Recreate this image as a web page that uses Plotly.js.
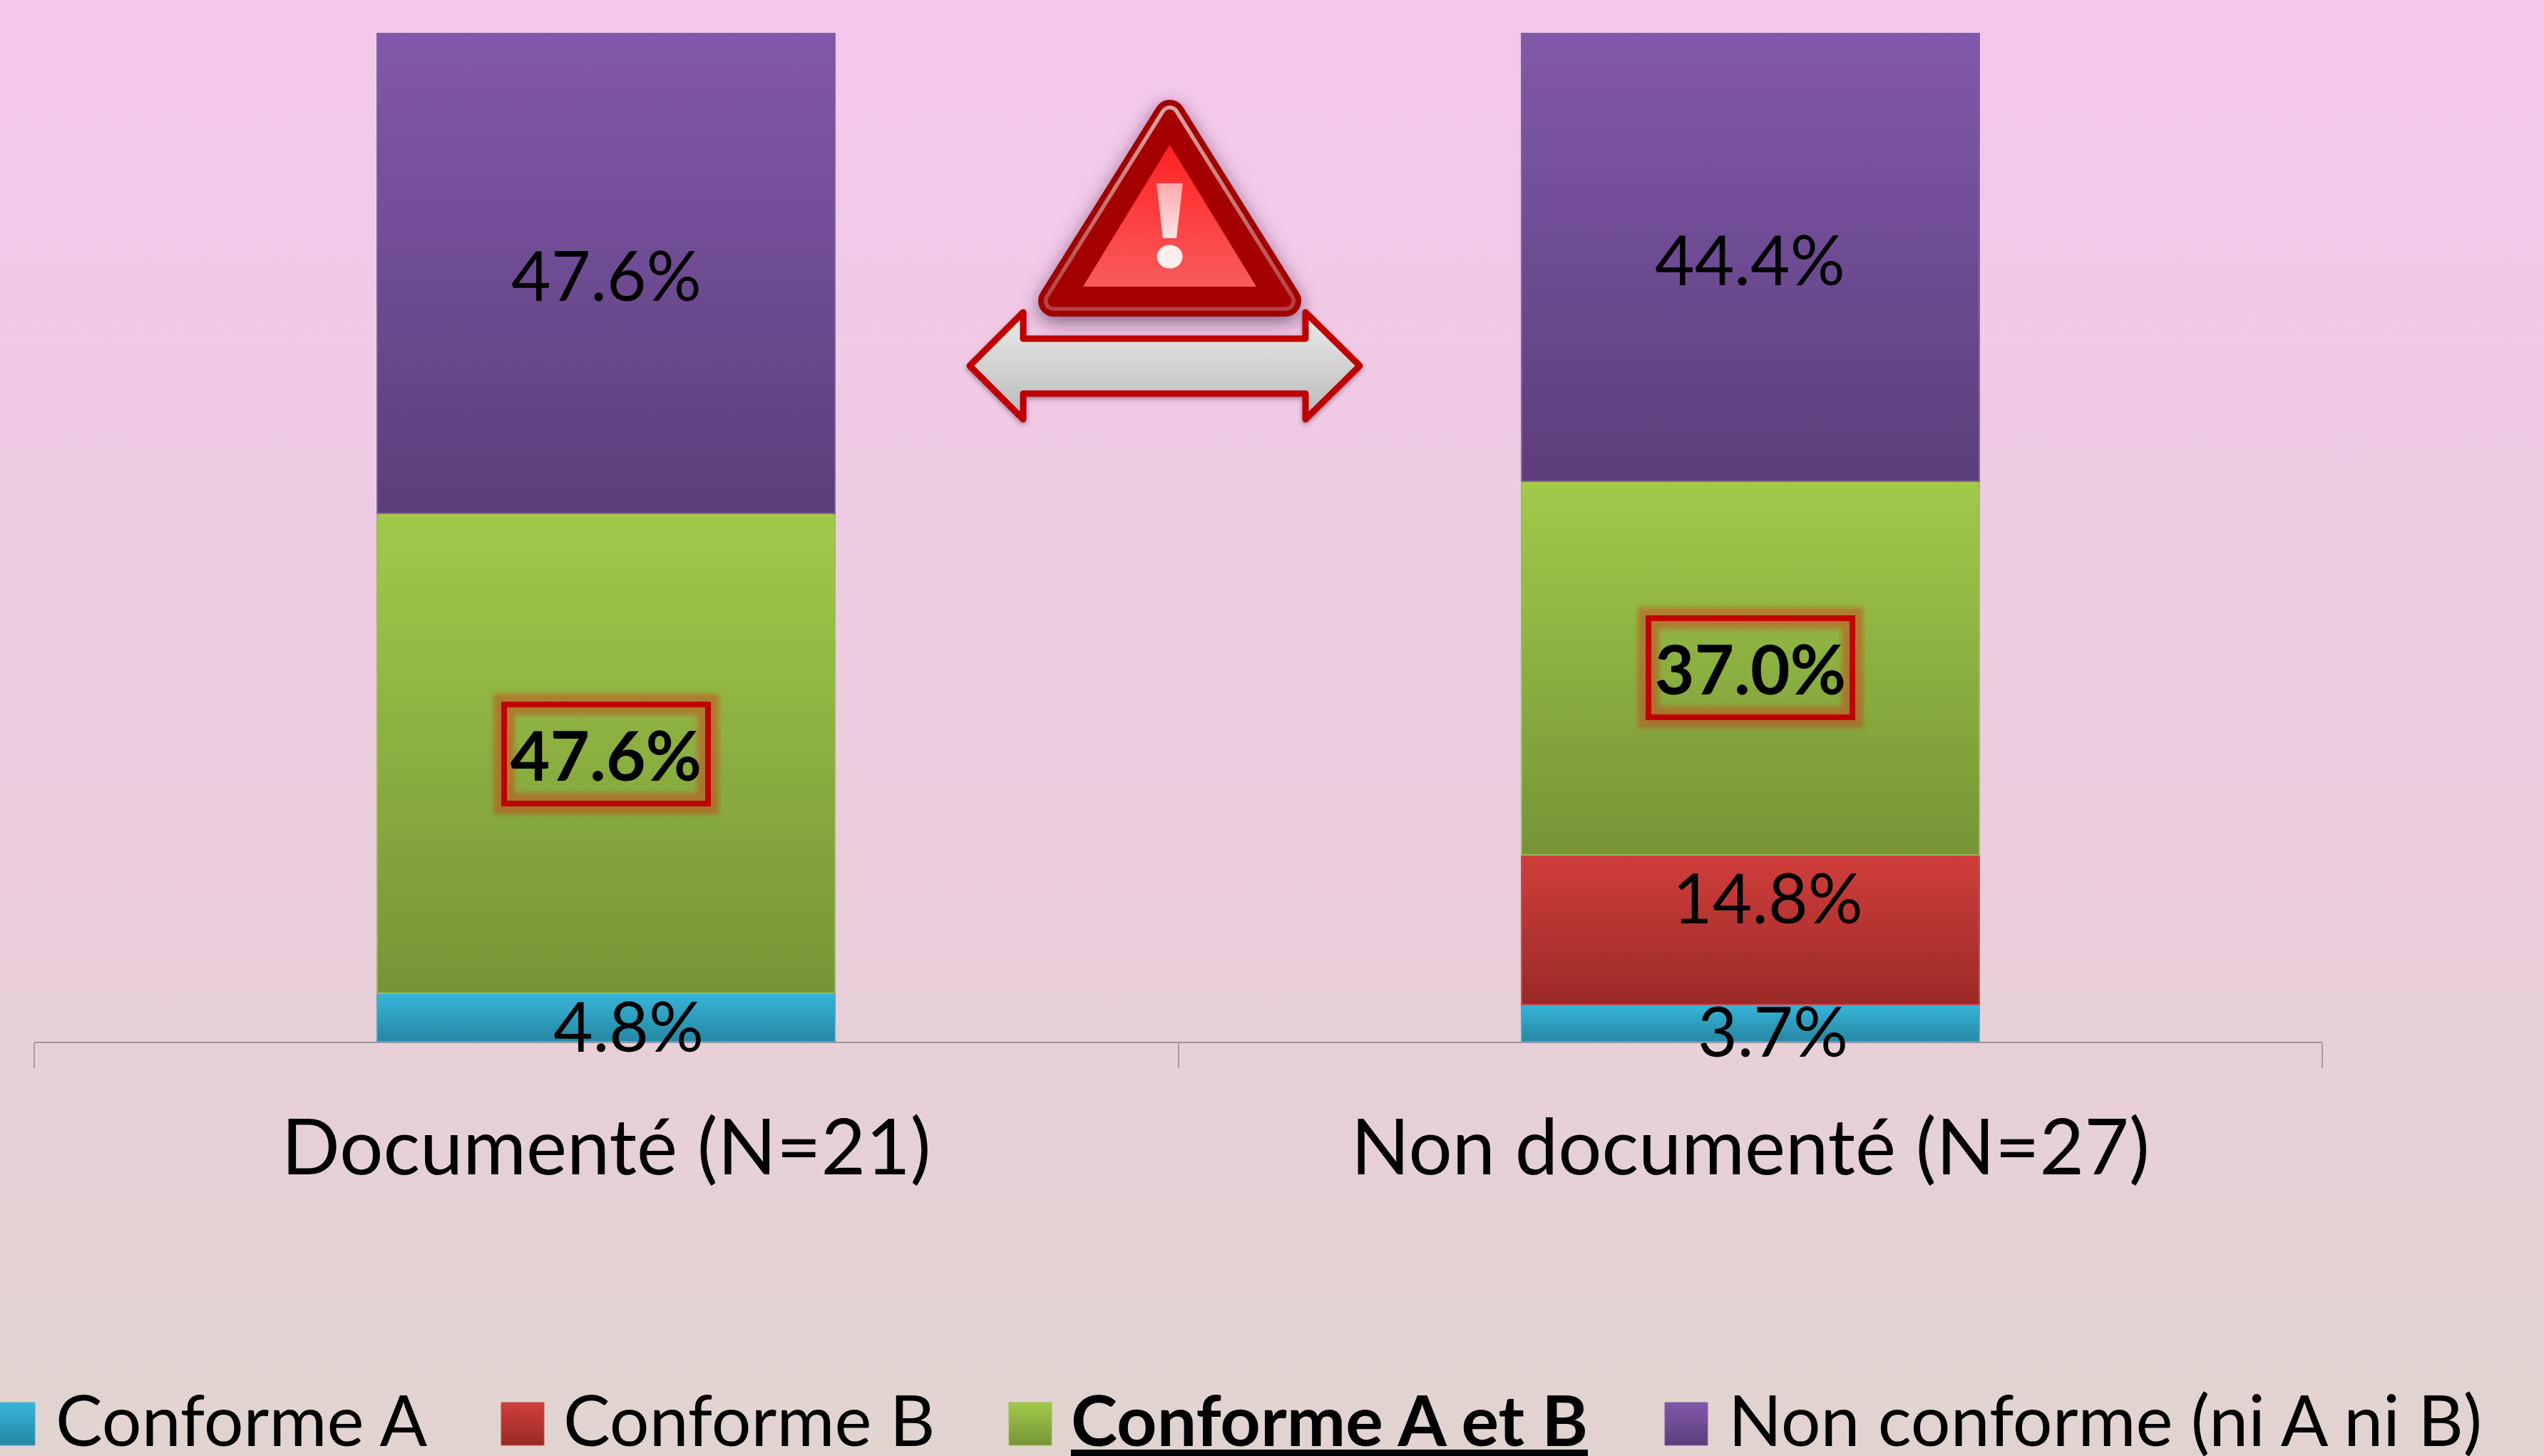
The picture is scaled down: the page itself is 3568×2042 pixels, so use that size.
<!DOCTYPE html>
<html lang="fr">
<head>
<meta charset="utf-8">
<script src="https://cdn.plot.ly/plotly-3.0.1.min.js"></script>
<style>
html,body{margin:0;padding:0;width:3568px;height:2042px;overflow:hidden;
background:linear-gradient(180deg,#f5c8ec 0%,#ecccdf 50%,#e1d4cf 100%);}
#chart{width:3568px;height:2042px;}
</style>
</head>
<body>
<div id="chart"></div>
<script>
const categories = ['Documenté (N=21)', 'Non documenté (N=27)'];
const seriesNames = ['Conforme A', 'Conforme B', 'Conforme A et B', 'Non conforme (ni A ni B)'];
const conformeA = [4.8, 3.7];
const conformeB = [0, 14.8];
const conformeAB = [47.6, 37.0];
const nonConforme = [47.6, 44.4];
const seriesValues = [conformeA, conformeB, conformeAB, nonConforme];

const gradients = [['#38b5d9', '#2587a3'], ['#d03e3b', '#9a2a27'], ['#a1ca4a', '#769436'], ['#8059aa', '#5c3e7b']];
const edgeColors = ['#46aac8', '#c0504d', '#9bbb59', '#8064a2'];

// label nudges in pixels, per series then per category
const labelDx = [[31, 32], [0, 25], [0, 0], [0, 0]];
const labelDy = [[-10, -10], [0, 46], [-1, 0], [-2, -2]];

const W = 3568, H = 2042;
const plot = {l: 48, r: 311, t: 46, b: 581};
const pw = W - plot.l - plot.r, ph = H - plot.t - plot.b;
const px = v => (v - plot.l) / pw;
const py = v => (H - plot.b - v) / ph;
const FONT = 'Lato, Carlito, sans-serif';
const LABEL_SIZE = 96;
const LEGEND_SIZE = 98.5;

const traces = seriesValues.map((vals, i) => ({
  type: 'bar', x: categories, y: vals, name: seriesNames[i], showlegend: false,
  marker: {color: gradients[i][0], line: {color: edgeColors[i], width: 2}},
  hoverinfo: 'skip'
}));

const annotations = [];
categories.forEach((c, k) => {
  const total = seriesValues.reduce((s, v) => s + v[k], 0);
  let base = 0;
  seriesValues.forEach((vals, i) => {
    const v = vals[k];
    if (v > 0) {
      const boxed = i === 2;
      const a = {
        x: c, y: (base + v / 2) / total * 100, xref: 'x', yref: 'y',
        text: (boxed ? '<b>' : '') + v.toFixed(1) + '%' + (boxed ? '</b>' : ''),
        showarrow: false, xshift: labelDx[i][k], yshift: labelDy[i][k],
        font: {family: FONT, size: LABEL_SIZE, color: '#000'}, xanchor: 'center', yanchor: 'middle'
      };
      if (boxed) { Object.assign(a, {bordercolor: '#c00000', borderwidth: 8, borderpad: 0, width: 278, height: 131}); }
      annotations.push(a);
    }
    base += v;
  });
});

// legend, drawn from the series names
const swatchX = [-11, 703, 1415, 2335];
const legendTextX = [76, 788, 1500, 2422];
const shapes = [];
seriesNames.forEach((n, i) => {
  shapes.push({type: 'rect', xref: 'paper', yref: 'paper', x0: px(swatchX[i]), x1: px(swatchX[i] + 60),
    y0: py(2027), y1: py(1967), fillcolor: gradients[i][0], line: {color: edgeColors[i], width: 1}});
  annotations.push({xref: 'paper', yref: 'paper', x: px(legendTextX[i]), y: py(1990), xanchor: 'left', yanchor: 'middle',
    showarrow: false, align: 'left', height: 104, text: i === 2 ? '<b><u>' + n + '</u></b>' : n,
    font: {family: FONT, size: LEGEND_SIZE, color: '#000'}});
});

// warning sign and double arrow
const decor = `<svg xmlns="http://www.w3.org/2000/svg" width="700" height="700" viewBox="0 0 700 700">
<defs>
<linearGradient id="r" x1="0" y1="0" x2="0" y2="1"><stop offset="0" stop-color="#ff2020"/><stop offset=".25" stop-color="#ff3030"/><stop offset="1" stop-color="#f85c5c"/></linearGradient>
<linearGradient id="h" x1="0" y1="0" x2="0" y2="1"><stop offset="0" stop-color="#dca0a0"/><stop offset="1" stop-color="#b84040"/></linearGradient>
<linearGradient id="e" x1="0" y1="0" x2="0" y2="1"><stop offset="0" stop-color="#ffa8a8"/><stop offset="1" stop-color="#ffe4e4"/></linearGradient>
<linearGradient id="a" x1="0" y1="0" x2="0" y2="1"><stop offset="0" stop-color="#ececec"/><stop offset="1" stop-color="#b9b9b9"/></linearGradient>
<filter id="s1" x="-30%" y="-30%" width="160%" height="160%"><feDropShadow dx="0" dy="8" stdDeviation="13" flood-color="#3a1a3a" flood-opacity=".6"/></filter>
<filter id="s2" x="-10%" y="-10%" width="120%" height="120%"><feDropShadow dx="0" dy="3" stdDeviation="3" flood-color="#402040" flood-opacity=".45"/></filter>
</defs>
<g filter="url(#s1)"><polygon points="340.6,62 178,322 503,322" fill="#a00000" stroke="#a00000" stroke-width="44" stroke-linejoin="round"/></g>
<polygon points="340.6,62 178,322 503,322" fill="none" stroke="url(#h)" stroke-width="28" stroke-linejoin="round"/>
<polygon points="340.6,62 178,322 503,322" fill="#a50000" stroke="#a50000" stroke-width="17" stroke-linejoin="round"/>
<polygon points="340.6,103 219,302 462,302" fill="url(#r)"/>
<polygon points="322,157 359,157 350,234 331,234" fill="url(#e)"/>
<ellipse cx="340.6" cy="260" rx="18" ry="16.5" fill="#fff" fill-opacity=".9"/>
<polygon filter="url(#s2)" points="60,413 135,338 135,375 531,375 531,338 607,413 531,488 531,452 135,452 135,488" fill="url(#a)" stroke="#c00000" stroke-width="9" stroke-linejoin="round"/>
</svg>`;

const layout = {
  width: W, height: H, autosize: false, showlegend: false,
  paper_bgcolor: 'rgba(0,0,0,0)', plot_bgcolor: 'rgba(0,0,0,0)',
  margin: {l: plot.l, r: plot.r, t: plot.t, b: plot.b, pad: 0},
  barmode: 'stack', barnorm: 'percent', bargap: 0.6,
  font: {family: FONT, color: '#000'},
  xaxis: {type: 'category', tickson: 'boundaries', ticks: 'outside', ticklen: 35, tickwidth: 2, tickcolor: '#a5a0a5',
    showline: true, linecolor: '#9a969a', linewidth: 2, showgrid: false, zeroline: false,
    tickfont: {family: FONT, size: 108, color: '#000'}, ticklabelstandoff: 54, layer: 'below traces'},
  yaxis: {range: [0, 100], visible: false, fixedrange: true},
  annotations, shapes,
  images: [{source: 'data:image/svg+xml;charset=utf-8,' + encodeURIComponent(decor), xref: 'paper', yref: 'paper',
    x: px(1300), y: py(100), sizex: 700 / pw, sizey: 700 / ph, xanchor: 'left', yanchor: 'top', sizing: 'stretch', layer: 'above'}]
};

Plotly.newPlot('chart', traces, layout, {staticPlot: true, displayModeBar: false}).then(gd => {
  // vertical gradients on bars and legend swatches
  const NS = 'http://www.w3.org/2000/svg';
  const svg = gd.querySelector('.main-svg');
  const defs = document.createElementNS(NS, 'defs');
  gradients.forEach((g, i) => {
    const lg = document.createElementNS(NS, 'linearGradient');
    lg.setAttribute('id', 'barGrad' + i);
    lg.setAttribute('x1', '0'); lg.setAttribute('y1', '0'); lg.setAttribute('x2', '0'); lg.setAttribute('y2', '1');
    g.forEach((c, j) => {
      const s = document.createElementNS(NS, 'stop');
      s.setAttribute('offset', String(j));
      s.setAttribute('stop-color', c);
      lg.appendChild(s);
    });
    defs.appendChild(lg);
  });
  svg.insertBefore(defs, svg.firstChild);
  gd.querySelectorAll('.barlayer .trace').forEach((t, i) => {
    t.querySelectorAll('.point path').forEach(p => p.style.fill = 'url(#barGrad' + i + ')');
  });
  gd.querySelectorAll('.shapelayer path').forEach((p, i) => { p.style.fill = 'url(#barGrad' + i + ')'; });
  // soft halo around the boxed labels
  gd.querySelectorAll('.annotation rect.bg').forEach(r => {
    if (parseFloat(r.style.strokeWidth) > 0) {
      const halo = r.cloneNode();
      halo.classList.remove('bg');
      halo.style.stroke = 'rgba(215,45,20,0.42)';
      halo.style.strokeWidth = '30px';
      halo.style.filter = 'blur(3px)';
      r.parentNode.insertBefore(halo, r);
    }
  });
});
</script>
</body>
</html>
